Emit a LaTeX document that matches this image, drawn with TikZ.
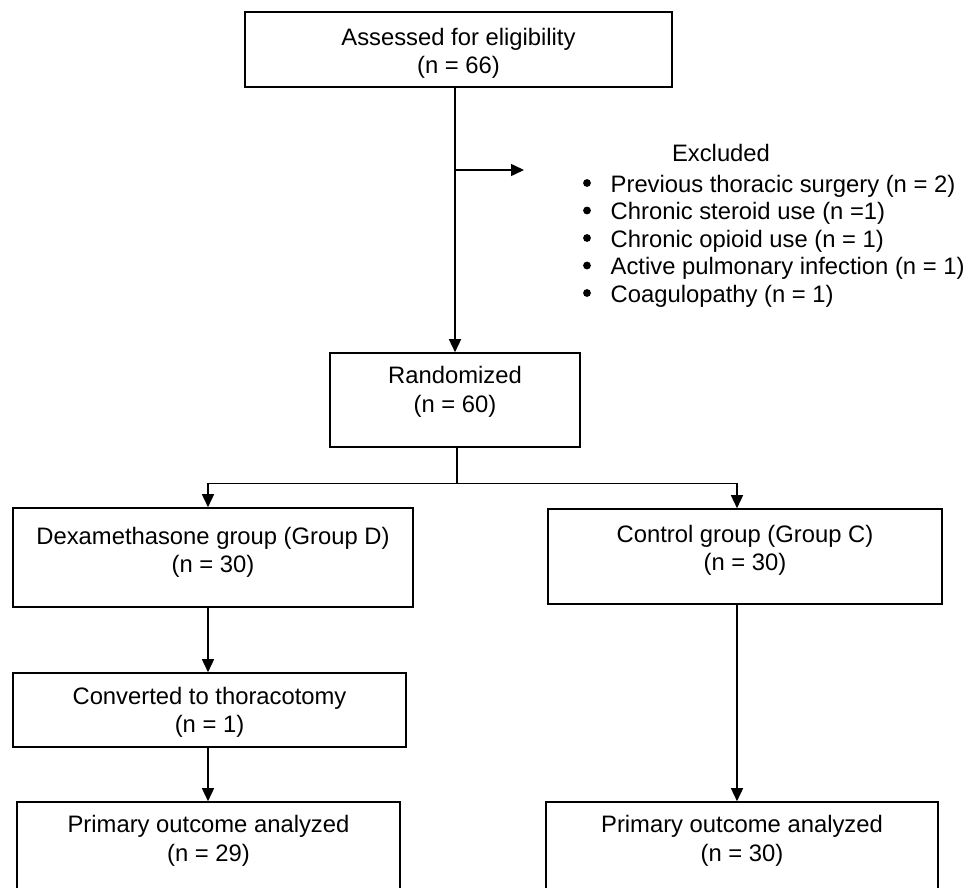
\documentclass[tikz,border=0pt]{standalone}
\usepackage{fontspec}
\setmainfont{Liberation Sans}
\usetikzlibrary{arrows.meta,calc}
\begin{document}
\begin{tikzpicture}[x=1pt,y=-1pt]
\tikzset{
 box/.style={draw=black, line width=1.6pt, inner sep=0pt},
 txt/.style={inner sep=0pt, align=center, anchor=north, font=\fontsize{23.8}{28.5}\selectfont},
 listtxt/.style={inner sep=0pt, align=left, anchor=north west, font=\fontsize{23.8}{27.5}\selectfont},
 conn/.style={line width=1.5pt, -{Triangle[length=13pt,width=12pt]}},
 plainline/.style={line width=1.5pt},
 bulletdot/.style={fill=black}
}
\useasboundingbox (0,0) rectangle (970,888);
\clip (0,0) rectangle (970,888);
\fill[white] (0,0) rectangle (970,888);

% boxes
\node[box, minimum width=427pt, minimum height=75pt] (top) at (458.5,49.5) {};
\node[txt] (toptext) at ($(top.north)+(0,14)$) {\strut Assessed for eligibility\\\strut(n = 66)};

\node[box, minimum width=250pt, minimum height=94pt] (rand) at (455,400) {};
\node[txt] (randtext) at ($(rand.north)+(0,11.5)$) {\strut Randomized\\\strut(n = 60)};

\node[box, minimum width=400pt, minimum height=99pt] (dexa) at (213,557.5) {};
\node[txt] (dexatext) at ($(dexa.north)+(0,17)$) {\strut Dexamethasone group (Group D)\\\strut(n = 30)};

\node[box, minimum width=394pt, minimum height=95pt] (ctrl) at (745,556.5) {};
\node[txt] (ctrltext) at ($(ctrl.north)+(0,14)$) {\strut Control group (Group C)\\\strut(n = 30)};

\node[box, minimum width=393pt, minimum height=74pt] (conv) at (209.5,710) {};
\node[txt] (convtext) at ($(conv.north)+(0,12)$) {\strut Converted to thoracotomy\\\strut(n = 1)};

\node[box, minimum width=383pt, minimum height=140pt] (primL) at (208.5,872) {};
\node[txt] (primLtext) at ($(primL.north)+(0,11.5)$) {\strut Primary outcome analyzed\\\strut(n = 29)};

\node[box, minimum width=392pt, minimum height=140pt] (primR) at (742,872) {};
\node[txt] (primRtext) at ($(primR.north)+(0,11.5)$) {\strut Primary outcome analyzed\\\strut(n = 30)};

% excluded
\node[inner sep=0pt, anchor=base, font=\fontsize{23.8}{28.5}\selectfont] (exhead) at (721,162) {Excluded};
\node[listtxt] (exlist) at (610.5,172.75) {%
\strut Previous thoracic surgery (n = 2)\\
\strut Chronic steroid use (n =1)\\
\strut Chronic opioid use (n = 1)\\
\strut Active pulmonary infection (n = 1)\\
\strut Coagulopathy (n = 1)};
\foreach \yb in {192,219.5,247,274.5,302}
  \fill[bulletdot] (587,\yb-9) circle[radius=3.9pt];

% connectors
\coordinate (lx) at (208,0);
\coordinate (rx) at (737,0);
\coordinate (split) at (457,483.5);
\coordinate (exA) at (456,170);
\coordinate (exB) at (524,170);

\draw[conn] (top.south -| rand.north) -- (rand.north);
\draw[conn] (exA) -- (exB);
\draw[plainline] (rand.south -| split) -- (split);
\draw[conn] (split) -| (dexa.north -| lx);
\draw[conn] (split) -| (ctrl.north -| rx);
\draw[conn] (dexa.south -| lx) -- (conv.north -| lx);
\draw[conn] (conv.south -| lx) -- (primL.north -| lx);
\draw[conn] (ctrl.south -| rx) -- (primR.north -| rx);
\end{tikzpicture}
\end{document}
